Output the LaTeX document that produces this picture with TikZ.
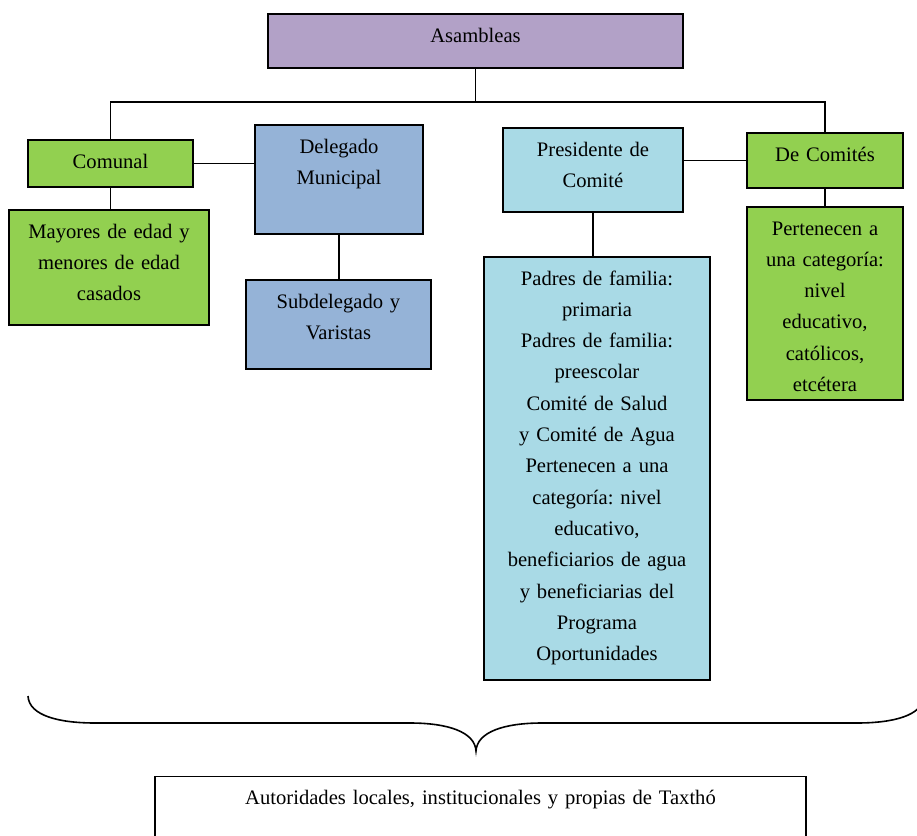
\documentclass[tikz,border=0pt]{standalone}
\usepackage{fontspec}
\setmainfont{Liberation Serif}
\definecolor{lila}{HTML}{B2A1C7}
\definecolor{verde}{HTML}{92D050}
\definecolor{azul}{HTML}{95B3D7}
\definecolor{celeste}{HTML}{A9DAE6}

\begin{document}
\begin{tikzpicture}[x=0.5pt, y=-0.5pt,
        box/.style={draw=black, line width=1pt, anchor=north, inner sep=0pt,
                    align=center, text height=14pt,
                    font=\fontsize{10.3}{15.65}\selectfont\frenchspacing},
        pb/.style={box, fill=lila},
        gb/.style={box, fill=verde},
        bb/.style={box, fill=azul},
        cb/.style={box, fill=celeste},
        wb/.style={box, fill=white, line width=0.7pt},
        ln/.style={line width=0.8pt}]
      \useasboundingbox (0,0) rectangle (917,836);
      % top
      \node[pb, minimum width=207.5pt, text width=190pt, text depth=13pt] (asam) at (475.5,13) {Asambleas};
      % left branch
      \node[gb, minimum width=82.5pt, text width=75pt, text depth=9.5pt] (comunal) at (110.5,139) {Comunal};
      \node[gb, minimum width=100pt, text width=92pt, text depth=43.5pt] (mayores) at (109,209)
        {Mayores de edad y\\menores de edad\\casados};
      \node[bb, minimum width=84pt, text width=78pt, text depth=40.5pt] (deleg) at (339,124)
        {Delegado\\Municipal};
      \node[bb, minimum width=92.5pt, text width=85pt, text depth=30.5pt] (subdel) at (338.5,279)
        {Subdelegado y\\Varistas};
      % right branch
      \node[cb, minimum width=90pt, text width=84pt, text depth=28pt] (pres) at (593,127)
        {Presidente de\\Comité};
      \node[cb, minimum width=113pt, text width=105pt, text depth=197.5pt] (padres) at (597,256)
        {Padres de familia:\\primaria\\Padres de familia:\\preescolar\\Comité de Salud\\y Comité de Agua\\
         Pertenecen a una\\categoría: nivel\\educativo,\\beneficiarios de agua\\y beneficiarias del\\
         Programa\\Oportunidades};
      \node[gb, minimum width=78pt, text width=72pt, text depth=13.5pt] (comites) at (825,132) {De Comités};
      \node[gb, minimum width=78pt, text width=72pt, text depth=82.5pt] (pert) at (825,206)
        {Pertenecen a\\una categoría:\\nivel\\educativo,\\católicos,\\etcétera};
      % bottom
      \node[wb, minimum width=325.5pt, text width=300pt, text depth=26pt] (autor) at (480.5,776)
        {Autoridades locales, institucionales y propias de Taxthó};
      % connectors
      \coordinate (bus) at (475.5,102);
      \draw[ln] (asam.south) -- (bus);
      \draw[ln] (comunal.north) -- (comunal.north |- bus) -- (comites.north |- bus) -- (comites.north);
      \draw[ln] (comunal.east) -- (comunal.east -| deleg.west);
      \draw[ln] (comunal.south) -- (comunal.south |- mayores.north);
      \draw[ln] (deleg.south) -- (deleg.south |- subdel.north);
      \draw[ln] (comites.west -| pres.east) -- (comites.west);
      \draw[ln] (pres.south) -- (pres.south |- padres.north);
      \draw[ln] (comites.south) -- (pert.north);
      % brace
      \draw[ln] (28,696) .. controls (29,716) and (60,723) .. (95,723) -- (410,723)
        .. controls (448,723) and (475,732) .. (476,751)
        .. controls (477,732) and (504,723) .. (542,723) -- (857,723)
        .. controls (892,723) and (923,716) .. (924,696);
    \end{tikzpicture}
\end{document}
